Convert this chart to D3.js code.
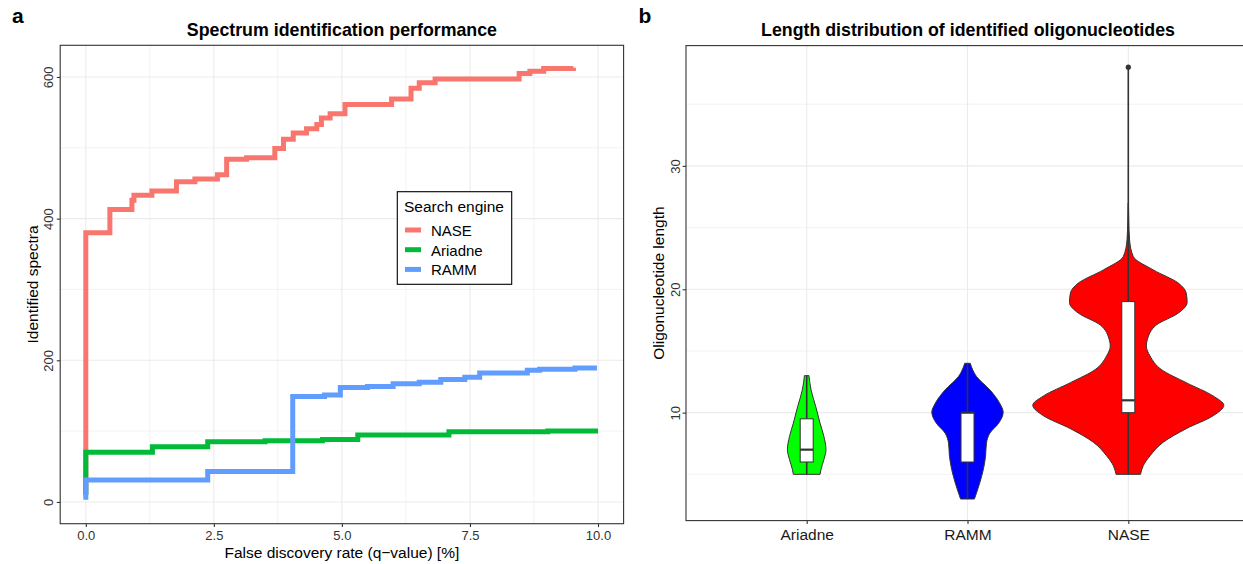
<!DOCTYPE html>
<html>
<head>
<meta charset="utf-8">
<script src="https://cdn.jsdelivr.net/npm/d3@7"></script>
<style>
  body { margin: 0; background: #fff; }
  text { font-family: "Liberation Sans", Arial, sans-serif; }
</style>
</head>
<body>
<svg id="chart" width="1243" height="564"></svg>
<script>
// ---- panel a: identified spectra vs q-value ----
const engines = ["NASE", "Ariadne", "RAMM"];
const engineColors = ["#F8766D", "#00BA38", "#619CFF"];

const naseQ     = [0,  0,   0.47, 0.9, 0.94, 1.29, 1.77, 2.13, 2.57, 2.75, 3.14, 3.69, 3.86, 4.05, 4.31, 4.51, 4.6, 4.77, 5.06, 5.97, 6.35, 6.51, 6.82, 8.46, 8.67, 8.94, 9.52];
const naseCount = [10, 380, 413,  426, 433,  439,  452,  456,  462,  484,  486,  499,  512,  521,  527,  533,  542, 548,  561,  569,  584,  592,  597,  605,  608,  612,  613];

const ariadneQ     = [0,  0,  1.3, 2.38, 3.5,  4.62, 5.31, 7.09, 9.02, 10.0];
const ariadneCount = [10, 70, 78,  85,   86.5, 88,   94.5, 99,   100,  100];

const rammQ     = [0, 0,  2.38, 4.04, 4.66, 4.97,  5.5, 6.0, 6.51, 6.93, 7.4, 7.69, 8.62, 8.86,  9.55, 9.98];
const rammCount = [3, 31, 43,   149,  151,  161.5, 163, 167, 169,  173,  176, 182,  186,  187.5, 189,  189];

const qTicks = [0, 2.5, 5, 7.5, 10];
const qMinor = [1.25, 3.75, 6.25, 8.75];
const countTicks = [0, 200, 400, 600];
const countMinor = [100, 300, 500];

// ---- panel b: oligonucleotide length distribution ----
const tools = ["Ariadne", "RAMM", "NASE"];
const toolColors = ["#00FF00", "#0000FF", "#FF0000"];
// violin outlines: [length, half width as fraction of category step]
const ariadneViolin = [[5, 0.083], [5.4, 0.089], [6.2, 0.107], [7.0, 0.12], [8.07, 0.107], [9.15, 0.083], [10.5, 0.056], [11.85, 0.027], [13, 0.014]];
const rammViolin = [[3, 0.043], [4.3, 0.076], [5.37, 0.098], [6.45, 0.112], [7.53, 0.118], [8.34, 0.139], [9.15, 0.194], [10.04, 0.222], [10.77, 0.2], [11.85, 0.139], [12.93, 0.056], [14, 0.017]];
const naseViolin = [[5, 0.076], [5.7, 0.093], [6.5, 0.135], [7.6, 0.217], [8.7, 0.36], [9.75, 0.528], [10.6, 0.594], [11.35, 0.528], [12.43, 0.36], [13.5, 0.205], [14.6, 0.135], [15.4, 0.112], [15.9, 0.118], [17.1, 0.174], [18.07, 0.311], [18.93, 0.366], [19.7, 0.36], [20.5, 0.311], [21.57, 0.155], [22.65, 0.031], [24, 0.008], [25.5, 0.003], [27, 0.001]];
// box stats: [min, q1, median, q3, max]
const boxStats = [[5, 6, 7, 9.5, 13], [3, 6, 10, 10, 14], [5, 10, 11, 19, 38]];
const outliers = [[], [], [38]];
const lengthTicks = [10, 20, 30];
const lengthMinor = [5, 15, 25, 35];

const svg = d3.select("#chart");
const gridCol = "#EBEBEB", frameCol = "#333333", tickTextCol = "#333333";

// ================= panel a =================
const pa = {left: 60.2, right: 623.6, top: 45.3, bottom: 523.7};
const x = d3.scaleLinear().domain([-0.5, 10.5]).range([pa.left, pa.right]);
const y = d3.scaleLinear().domain([-30.7, 644.7]).range([pa.bottom, pa.top]);

const ga = svg.append("g");
ga.selectAll(".vminor").data(qMinor).enter().append("line")
  .attr("x1", d => x(d)).attr("x2", d => x(d)).attr("y1", pa.top).attr("y2", pa.bottom)
  .style("stroke", gridCol).style("stroke-width", 0.6);
ga.selectAll(".hminor").data(countMinor).enter().append("line")
  .attr("x1", pa.left).attr("x2", pa.right).attr("y1", d => y(d)).attr("y2", d => y(d))
  .style("stroke", gridCol).style("stroke-width", 0.6);
ga.selectAll(".vmajor").data(qTicks).enter().append("line")
  .attr("x1", d => x(d)).attr("x2", d => x(d)).attr("y1", pa.top).attr("y2", pa.bottom)
  .style("stroke", gridCol).style("stroke-width", 1.1);
ga.selectAll(".hmajor").data(countTicks).enter().append("line")
  .attr("x1", pa.left).attr("x2", pa.right).attr("y1", d => y(d)).attr("y2", d => y(d))
  .style("stroke", gridCol).style("stroke-width", 1.1);

const series = [
  {name: "NASE", q: naseQ, c: naseCount},
  {name: "Ariadne", q: ariadneQ, c: ariadneCount},
  {name: "RAMM", q: rammQ, c: rammCount}
];
const stepLine = d3.line().x(d => x(d[0])).y(d => y(d[1])).curve(d3.curveStepAfter);
ga.selectAll(".step").data(series).enter().append("path")
  .attr("d", s => stepLine(s.q.map((q, i) => [q, s.c[i]])))
  .style("fill", "none")
  .style("stroke", s => engineColors[engines.indexOf(s.name)])
  .style("stroke-width", 5);

ga.append("rect").attr("x", pa.left).attr("y", pa.top)
  .attr("width", pa.right - pa.left).attr("height", pa.bottom - pa.top)
  .style("fill", "none").style("stroke", frameCol).style("stroke-width", 1.1);

const axA = ga.append("g").attr("transform", `translate(0,${pa.bottom})`)
  .call(d3.axisBottom(x).tickValues(qTicks).tickFormat(d3.format(".1f")).tickSize(3.4).tickPadding(3));
const ayA = ga.append("g").attr("transform", `translate(${pa.left},0)`)
  .call(d3.axisLeft(y).tickValues(countTicks).tickSize(3.4));

[axA, ayA].forEach(a => {
  a.select(".domain").remove();
  a.selectAll(".tick line").style("stroke", frameCol).style("stroke-width", 1.1);
  a.selectAll("text").style("fill", tickTextCol).style("font-size", "13px")
    .style("font-family", '"Liberation Sans", Arial, sans-serif');
});
axA.selectAll("text").attr("y", 0).attr("dy", 0).attr("transform", "translate(0,16.6)");
ayA.selectAll("text").attr("x", 0).attr("dy", 0).attr("text-anchor", "middle")
  .attr("transform", "translate(-6.8,0) rotate(-90)");

ga.append("text").attr("x", (pa.left + pa.right) / 2).attr("y", 558)
  .attr("text-anchor", "middle").style("font-size", "15.5px").text("False discovery rate (q\u2212value) [%]");
ga.append("text").attr("transform", `translate(37.5,${(pa.top + pa.bottom) / 2}) rotate(-90)`)
  .attr("text-anchor", "middle").style("font-size", "15.5px").text("Identified spectra");
ga.append("text").attr("x", (pa.left + pa.right) / 2).attr("y", 36)
  .attr("text-anchor", "middle").style("font-size", "17.8px").style("font-weight", "bold")
  .text("Spectrum identification performance");
ga.append("text").attr("x", 12).attr("y", 22.7)
  .style("font-size", "21px").style("font-weight", "bold").text("a");

// legend
const lg = ga.append("g").attr("transform", "translate(397.3,191.7)");
lg.append("rect").attr("width", 114.4).attr("height", 92.6)
  .style("fill", "#fff").style("stroke", "#000").style("stroke-width", 1.1);
lg.append("text").attr("x", 6.7).attr("y", 20).style("font-size", "15.5px").text("Search engine");
const items = lg.selectAll(".item").data(engines).enter().append("g")
  .attr("transform", (d, i) => `translate(0,${38.3 + i * 19.7})`);
items.append("line").attr("x1", 7.7).attr("x2", 23.7)
  .style("stroke", (d, i) => engineColors[i]).style("stroke-width", 5);
items.append("text").attr("x", 33.7).attr("y", 5.8).style("font-size", "15px").text(d => d);

// ================= panel b =================
const pb = {left: 686, right: 1250, top: 45.6, bottom: 520.6};
const xb = d3.scalePoint().domain(tools).range([806.7, 1128.3]);
const yb = d3.scaleLinear().domain([1.25, 39.75]).range([pb.bottom, pb.top]);
const wScale = d3.scaleLinear().domain([0, 1]).range([0, xb.step()]);
const gb = svg.append("g");

gb.selectAll(".hminor").data(lengthMinor).enter().append("line")
  .attr("x1", pb.left).attr("x2", pb.right).attr("y1", d => yb(d)).attr("y2", d => yb(d))
  .style("stroke", gridCol).style("stroke-width", 0.6);
gb.selectAll(".hmajor").data(lengthTicks).enter().append("line")
  .attr("x1", pb.left).attr("x2", pb.right).attr("y1", d => yb(d)).attr("y2", d => yb(d))
  .style("stroke", gridCol).style("stroke-width", 1.1);
gb.selectAll(".vmajor").data(tools).enter().append("line")
  .attr("x1", d => xb(d)).attr("x2", d => xb(d)).attr("y1", pb.top).attr("y2", pb.bottom)
  .style("stroke", gridCol).style("stroke-width", 1.1);

const violins = [ariadneViolin, rammViolin, naseViolin];
const groups = gb.selectAll(".tool").data(tools).enter().append("g");

groups.append("path")
  .attr("d", (t, i) => d3.area()
    .curve(d3.curveMonotoneY)
    .y(d => yb(d[0]))
    .x0(d => xb(t) - wScale(d[1]))
    .x1(d => xb(t) + wScale(d[1]))(violins[i]))
  .style("fill", (t, i) => toolColors[i])
  .style("stroke", frameCol).style("stroke-width", 1);

const boxHalf = 6.5;
groups.append("line")
  .attr("x1", t => xb(t)).attr("x2", t => xb(t))
  .attr("y1", (t, i) => yb(boxStats[i][0])).attr("y2", (t, i) => yb(boxStats[i][4]))
  .style("stroke", frameCol).style("stroke-width", 1.6);
groups.append("rect")
  .attr("x", t => xb(t) - boxHalf).attr("width", boxHalf * 2)
  .attr("y", (t, i) => yb(boxStats[i][3]))
  .attr("height", (t, i) => yb(boxStats[i][1]) - yb(boxStats[i][3]))
  .style("fill", "#fff").style("stroke", frameCol).style("stroke-width", 1);
groups.append("line")
  .attr("x1", t => xb(t) - boxHalf).attr("x2", t => xb(t) + boxHalf)
  .attr("y1", (t, i) => yb(boxStats[i][2])).attr("y2", (t, i) => yb(boxStats[i][2]))
  .style("stroke", frameCol).style("stroke-width", 2.2);
groups.each(function (t, i) {
  d3.select(this).selectAll(".out").data(outliers[i]).enter().append("circle")
    .attr("cx", xb(t)).attr("cy", d => yb(d)).attr("r", 2.6)
    .style("fill", frameCol);
});

gb.append("rect").attr("x", pb.left).attr("y", pb.top)
  .attr("width", pb.right - pb.left).attr("height", pb.bottom - pb.top)
  .style("fill", "none").style("stroke", frameCol).style("stroke-width", 1.1);

const axB = gb.append("g").attr("transform", `translate(0,${pb.bottom})`)
  .call(d3.axisBottom(xb).tickSize(3.4).tickPadding(3));
const ayB = gb.append("g").attr("transform", `translate(${pb.left},0)`)
  .call(d3.axisLeft(yb).tickValues(lengthTicks).tickSize(3.4));
[axB, ayB].forEach(a => {
  a.select(".domain").remove();
  a.selectAll(".tick line").style("stroke", frameCol).style("stroke-width", 1.1);
  a.selectAll("text").style("fill", tickTextCol).style("font-size", "13px")
    .style("font-family", '"Liberation Sans", Arial, sans-serif');
});
axB.selectAll("text").attr("y", 0).attr("dy", 0).attr("transform", "translate(0,19.7)")
  .style("fill", "#1a1a1a").style("font-size", "15.5px");
ayB.selectAll("text").attr("x", 0).attr("dy", 0).attr("text-anchor", "middle")
  .attr("transform", "translate(-6.5,0) rotate(-90)");

gb.append("text").attr("transform", `translate(663.5,${(pb.top + pb.bottom) / 2}) rotate(-90)`)
  .attr("text-anchor", "middle").style("font-size", "15.5px").text("Oligonucleotide length");
gb.append("text").attr("x", (pb.left + pb.right) / 2).attr("y", 36)
  .attr("text-anchor", "middle").style("font-size", "17.8px").style("font-weight", "bold")
  .text("Length distribution of identified oligonucleotides");
gb.append("text").attr("x", 638.5).attr("y", 22.5)
  .style("font-size", "21px").style("font-weight", "bold").text("b");
</script>
</body>
</html>
